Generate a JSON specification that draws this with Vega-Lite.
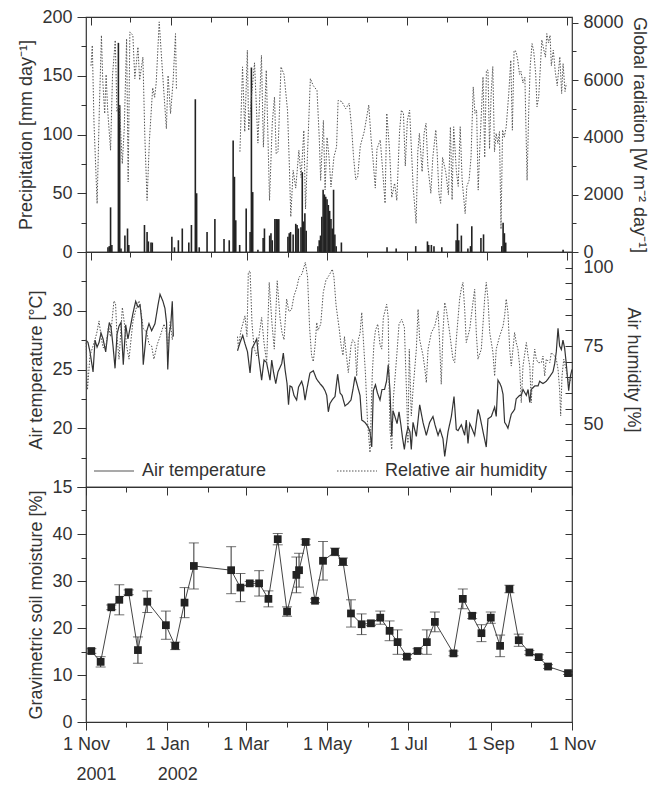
{
  "$schema": "https://vega.github.io/schema/vega-lite/v6.json",
  "padding": {"left": 17, "top": 7, "right": 5, "bottom": 5},
  "spacing": 0,
  "bounds": "flush",
  "resolve": {"legend": {"strokeDash": "independent"}, "scale": {"strokeDash": "independent"}},
  "datasets": {
    "precip": [
      {"day":13,"precip":4},{"day":14,"precip":5},{"day":15,"precip":38},{"day":16,"precip":6},{"day":21,"precip":178},{"day":22,"precip":125},{"day":23,"precip":3},{"day":26,"precip":14},{"day":28,"precip":20},{"day":29,"precip":6},
      {"day":41,"precip":23},{"day":43,"precip":17},{"day":44,"precip":9},{"day":46,"precip":8},{"day":47,"precip":8},{"day":62,"precip":13},{"day":64,"precip":4},{"day":67,"precip":10},{"day":70,"precip":20},{"day":75,"precip":8},
      {"day":77,"precip":23},{"day":80,"precip":130},{"day":81,"precip":50},{"day":83,"precip":4},{"day":89,"precip":17},{"day":95,"precip":28},{"day":102,"precip":11},{"day":106,"precip":10},{"day":109,"precip":95},{"day":110,"precip":64},
      {"day":111,"precip":27},{"day":114,"precip":6},{"day":119,"precip":37},{"day":122,"precip":17},{"day":123,"precip":157},{"day":124,"precip":51},{"day":128,"precip":2},{"day":132,"precip":12},{"day":133,"precip":20},{"day":137,"precip":14},
      {"day":138,"precip":16},{"day":139,"precip":10},{"day":141,"precip":28},{"day":142,"precip":28},{"day":143,"precip":28},{"day":144,"precip":28},{"day":151,"precip":13},{"day":152,"precip":16},{"day":153,"precip":17},{"day":155,"precip":15},
      {"day":157,"precip":24},{"day":158,"precip":23},{"day":159,"precip":20},{"day":161,"precip":21},{"day":162,"precip":68},{"day":163,"precip":26},{"day":164,"precip":33},{"day":165,"precip":18},{"day":174,"precip":5},{"day":175,"precip":10},
      {"day":176,"precip":14},{"day":177,"precip":30},{"day":178,"precip":53},{"day":179,"precip":49},{"day":180,"precip":47},{"day":181,"precip":45},{"day":182,"precip":40},{"day":183,"precip":35},{"day":184,"precip":28},{"day":185,"precip":20},
      {"day":186,"precip":53},{"day":187,"precip":15},{"day":188,"precip":5},{"day":192,"precip":8},{"day":227,"precip":4},{"day":234,"precip":3},{"day":249,"precip":5},{"day":258,"precip":9},{"day":259,"precip":6},{"day":261,"precip":6},
      {"day":263,"precip":5},{"day":269,"precip":4},{"day":280,"precip":10},{"day":281,"precip":24},{"day":282,"precip":10},{"day":284,"precip":14},{"day":289,"precip":3},{"day":291,"precip":5},{"day":292,"precip":22},{"day":299,"precip":12},
      {"day":301,"precip":15},{"day":315,"precip":5},{"day":316,"precip":25},{"day":317,"precip":16},{"day":318,"precip":8},{"day":362,"precip":2}
    ],
    "rad": [
      {"day":0,"rad":6500},{"day":1,"rad":7210},{"day":2.3,"rad":4500},{"day":4.7,"rad":1690},{"day":6.4,"rad":5000},{"day":8,"rad":7560},{"day":9,"rad":6000},{"day":10.5,"rad":4830},{"day":11.6,"rad":6190},{"day":12.8,"rad":4940},
      {"day":15,"rad":3550},{"day":16.5,"rad":6160},{"day":18.6,"rad":7390},{"day":19.9,"rad":4900},{"day":21.8,"rad":5100},{"day":24,"rad":3080},{"day":25.5,"rad":4300},{"day":27.3,"rad":7440},{"day":28.5,"rad":2450},{"day":29.8,"rad":7680},
      {"day":32.1,"rad":7560},{"day":33.6,"rad":6050},{"day":36,"rad":7150},{"day":37.3,"rad":6000},{"day":39.8,"rad":6800},{"day":41.3,"rad":4000},{"day":43,"rad":1800},{"day":44.8,"rad":3900},{"day":47.3,"rad":5730},{"day":48.8,"rad":5400},
      {"day":50,"rad":5900},{"day":52.3,"rad":8030},{"day":54.8,"rad":6300},{"day":57.8,"rad":4300},{"day":59.1,"rad":6160},{"day":61,"rad":4830},{"day":63,"rad":6000},{"day":64.8,"rad":7620},{"day":65.5,"rad":5700},
      {"day":90,"rad":null},
      {"day":114.2,"rad":3500},{"day":116.2,"rad":6460},{"day":117.9,"rad":4200},{"day":119.9,"rad":7040},{"day":120.9,"rad":4240},{"day":123.2,"rad":5500},{"day":125.4,"rad":6600},{"day":128,"rad":3800},{"day":130.7,"rad":6860},{"day":132.2,"rad":3660},
      {"day":134.4,"rad":6340},{"day":136.9,"rad":1800},{"day":139,"rad":4500},{"day":140.7,"rad":5410},{"day":142,"rad":3430},{"day":143.4,"rad":3500},{"day":145.7,"rad":6460},{"day":148,"rad":6200},{"day":150.7,"rad":4940},{"day":152.1,"rad":3020},
      {"day":153.2,"rad":1230},{"day":155,"rad":2850},{"day":157,"rad":2230},{"day":159.4,"rad":3550},{"day":161.1,"rad":2600},{"day":163.2,"rad":4240},{"day":164.5,"rad":1500},{"day":166,"rad":3400},{"day":168.2,"rad":6050},{"day":170.5,"rad":5800},
      {"day":173.3,"rad":5640},{"day":175,"rad":4010},{"day":176.1,"rad":2500},{"day":178.2,"rad":4590},{"day":179.5,"rad":2170},{"day":181,"rad":4000},{"day":182.5,"rad":3320},{"day":184,"rad":2270},{"day":186.3,"rad":3320},{"day":188.3,"rad":3670},
      {"day":189.5,"rad":5290},{"day":192.3,"rad":5250},{"day":195.3,"rad":5000},{"day":198,"rad":5190},{"day":199.8,"rad":4370},{"day":201.3,"rad":3330},{"day":203,"rad":2520},{"day":204.5,"rad":2620},{"day":206.5,"rad":3700},{"day":209.5,"rad":4200},
      {"day":213,"rad":5130},{"day":214.7,"rad":4000},{"day":216.3,"rad":3200},{"day":218,"rad":2230},{"day":219.3,"rad":3600},{"day":221.8,"rad":3910},{"day":223.4,"rad":3000},{"day":225.5,"rad":1700},{"day":226.8,"rad":4840},{"day":229,"rad":3500},
      {"day":230.6,"rad":1900},{"day":232.8,"rad":2400},{"day":234.5,"rad":1800},{"day":236.6,"rad":4200},{"day":238,"rad":4950},{"day":239.6,"rad":4830},{"day":241,"rad":3000},{"day":242.6,"rad":4600},{"day":244.3,"rad":4950},{"day":246,"rad":3300},
      {"day":247,"rad":2290},{"day":249.3,"rad":1000},{"day":250.6,"rad":3500},{"day":251.8,"rad":4140},{"day":253.9,"rad":2800},{"day":255.4,"rad":4140},{"day":256.9,"rad":4490},{"day":258.3,"rad":3000},{"day":260.6,"rad":2050},{"day":262.1,"rad":3300},
      {"day":264.4,"rad":4260},{"day":265.5,"rad":3400},{"day":266.8,"rad":2050},{"day":268.1,"rad":1700},{"day":269.6,"rad":3300},{"day":272,"rad":2800},{"day":274.1,"rad":2000},{"day":275.6,"rad":4360},{"day":276.9,"rad":1820},{"day":278.1,"rad":4370},
      {"day":280.2,"rad":2800},{"day":281.6,"rad":2290},{"day":283.1,"rad":4370},{"day":284.6,"rad":2500},{"day":286.9,"rad":1340},{"day":288.2,"rad":2290},{"day":289.9,"rad":2500},{"day":291.4,"rad":3300},{"day":293.1,"rad":5760},{"day":294.4,"rad":4840},
      {"day":295.7,"rad":4950},{"day":296.9,"rad":2160},{"day":298.2,"rad":3700},{"day":300.6,"rad":6110},{"day":301.9,"rad":3300},{"day":303.2,"rad":6340},{"day":304.4,"rad":6350},{"day":305.6,"rad":3600},{"day":306.8,"rad":5500},{"day":308.1,"rad":6470},
      {"day":309.4,"rad":3500},{"day":310.7,"rad":4140},{"day":312,"rad":3780},{"day":313.2,"rad":4200},{"day":314.4,"rad":800},{"day":315.6,"rad":4260},{"day":316.9,"rad":4010},{"day":318.4,"rad":4370},{"day":320.3,"rad":5500},{"day":321.9,"rad":6690},
      {"day":323.1,"rad":4250},{"day":324.4,"rad":7030},{"day":325.9,"rad":7000},{"day":327.2,"rad":6700},{"day":328.6,"rad":6200},{"day":329.7,"rad":6300},{"day":331.2,"rad":5900},{"day":332.7,"rad":6100},{"day":334.4,"rad":2500},{"day":335.7,"rad":5000},
      {"day":336.8,"rad":6500},{"day":338.2,"rad":7270},{"day":339.5,"rad":7000},{"day":341,"rad":6200},{"day":342,"rad":5070},{"day":343.3,"rad":5400},{"day":345.7,"rad":7400},{"day":347,"rad":7100},{"day":348.5,"rad":6800},{"day":349.5,"rad":7620},
      {"day":350.8,"rad":7300},{"day":352,"rad":7560},{"day":353,"rad":6500},{"day":354.5,"rad":7040},{"day":356,"rad":6300},{"day":357.5,"rad":5800},{"day":359.5,"rad":6810},{"day":360.9,"rad":5530},{"day":362,"rad":6570},{"day":363.5,"rad":5600},{"day":364.5,"rad":5880}
    ],
    "temp": [
      {"day":0,"temp":27.5},{"day":1.5,"temp":27.3},{"day":3,"temp":26.5},{"day":5.3,"temp":24.8},{"day":6.8,"temp":27.5},{"day":8.3,"temp":26.9},{"day":9.8,"temp":27.3},{"day":11.3,"temp":28.1},{"day":12.8,"temp":27.6},{"day":14.8,"temp":26.5},
      {"day":16.1,"temp":27.8},{"day":17.5,"temp":29.0},{"day":18.8,"temp":28.6},{"day":20.3,"temp":27.0},{"day":21.8,"temp":25.1},{"day":23.3,"temp":28.0},{"day":24.8,"temp":28.7},{"day":26.3,"temp":29.0},{"day":28,"temp":25.4},{"day":29.8,"temp":28.8},
      {"day":31.5,"temp":27.6},{"day":33.6,"temp":28.8},{"day":35.3,"temp":29.8},{"day":37.3,"temp":30.8},{"day":39.1,"temp":30.3},{"day":40.6,"temp":30.5},{"day":41.8,"temp":29.2},{"day":43,"temp":25.4},{"day":45.4,"temp":28.2},{"day":47.3,"temp":28.9},
      {"day":49.3,"temp":28.3},{"day":51.8,"temp":28.9},{"day":54.1,"temp":30.5},{"day":55.6,"temp":31.4},{"day":57.8,"temp":30.8},{"day":59.3,"temp":30.2},{"day":60.5,"temp":29.0},{"day":61.4,"temp":25.0},{"day":62.6,"temp":28.1},{"day":63.6,"temp":28.7},
      {"day":64.8,"temp":30.8},{"day":65.6,"temp":27.8},
      {"day":90,"temp":null},
      {"day":113.8,"temp":26.6},{"day":115.7,"temp":27.3},{"day":117.7,"temp":27.9},{"day":119.4,"temp":27.2},{"day":121.3,"temp":26.5},{"day":123.2,"temp":24.7},{"day":124.7,"temp":26.8},{"day":126.5,"temp":27.2},{"day":128.2,"temp":27.6},{"day":129.5,"temp":26.2},
      {"day":131.9,"temp":24.1},{"day":133.7,"temp":25.8},{"day":135.6,"temp":25.6},{"day":138.2,"temp":24.1},{"day":139.5,"temp":25.8},{"day":140.8,"temp":24.8},{"day":142.5,"temp":23.8},{"day":144.2,"temp":24.8},{"day":147,"temp":25.5},{"day":148.2,"temp":26.4},
      {"day":149.5,"temp":25.0},{"day":151,"temp":23.8},{"day":152.1,"temp":22.0},{"day":153.2,"temp":23.6},{"day":154.7,"temp":23.5},{"day":156.2,"temp":22.8},{"day":158.2,"temp":22.4},{"day":159.6,"temp":23.5},{"day":162,"temp":24.0},{"day":163.2,"temp":23.5},
      {"day":164.5,"temp":22.4},{"day":166,"temp":23.4},{"day":168.2,"temp":24.7},{"day":170.7,"temp":24.9},{"day":173.1,"temp":24.2},{"day":175.7,"temp":23.8},{"day":178,"temp":23.5},{"day":179.5,"temp":23.2},{"day":180.8,"temp":22.8},{"day":182,"temp":21.4},
      {"day":183.2,"temp":22.1},{"day":184.8,"temp":22.4},{"day":187,"temp":22.7},{"day":189,"temp":24.6},{"day":190.8,"temp":23.0},{"day":192.3,"temp":22.8},{"day":194.5,"temp":21.9},{"day":196.8,"temp":22.1},{"day":199,"temp":22.4},{"day":200.5,"temp":23.3},
      {"day":202,"temp":24.4},{"day":203.9,"temp":23.6},{"day":205.8,"temp":22.8},{"day":207.1,"temp":20.7},{"day":209.5,"temp":20.5},{"day":212,"temp":20.1},{"day":213.3,"temp":19.7},{"day":214.6,"temp":18.4},{"day":215.8,"temp":23.2},{"day":217.4,"temp":23.7},
      {"day":218.9,"temp":23.0},{"day":220.8,"temp":22.4},{"day":222.3,"temp":23.3},{"day":224.2,"temp":23.3},{"day":225.7,"temp":24.0},{"day":227,"temp":25.4},{"day":228.3,"temp":23.2},{"day":229.6,"temp":19.3},{"day":230.6,"temp":21.5},{"day":232,"temp":21.0},
      {"day":233.6,"temp":20.4},{"day":235.1,"temp":21.4},{"day":236.6,"temp":20.2},{"day":237.7,"temp":19.2},{"day":239.1,"temp":18.2},{"day":240.3,"temp":19.3},{"day":241.8,"temp":20.1},{"day":243.3,"temp":19.7},{"day":244.3,"temp":18.2},{"day":245.6,"temp":20.5},
      {"day":248.1,"temp":19.3},{"day":250.6,"temp":22.0},{"day":253.1,"temp":20.5},{"day":255.6,"temp":19.4},{"day":258.1,"temp":20.5},{"day":260.6,"temp":21.0},{"day":262.1,"temp":20.3},{"day":264.4,"temp":19.4},{"day":265.9,"temp":19.9},{"day":268.1,"temp":19.1},
      {"day":269.4,"temp":17.6},{"day":271.9,"temp":19.7},{"day":274.4,"temp":21.0},{"day":276.4,"temp":22.7},{"day":278.1,"temp":19.9},{"day":279.4,"temp":19.8},{"day":281.9,"temp":20.3},{"day":284.4,"temp":19.4},{"day":285.6,"temp":20.7},{"day":286.9,"temp":18.7},
      {"day":288.2,"temp":20.4},{"day":289.4,"temp":20.1},{"day":291.9,"temp":19.4},{"day":294.4,"temp":21.6},{"day":295.7,"temp":21.1},{"day":298.2,"temp":19.7},{"day":300.6,"temp":18.4},{"day":301.9,"temp":20.8},{"day":304.4,"temp":21.0},{"day":306.9,"temp":21.8},
      {"day":308.1,"temp":21.0},{"day":309.4,"temp":24.1},{"day":310.9,"temp":23.8},{"day":312,"temp":23.5},{"day":313.2,"temp":22.9},{"day":314.4,"temp":20.5},{"day":315.6,"temp":20.3},{"day":316.9,"temp":20.0},{"day":319.4,"temp":21.2},{"day":321.9,"temp":21.6},
      {"day":323.1,"temp":22.5},{"day":325.7,"temp":22.8},{"day":326.9,"temp":22.8},{"day":328.2,"temp":23.3},{"day":330.7,"temp":22.8},{"day":332,"temp":23.3},{"day":333.3,"temp":22.2},{"day":334.4,"temp":23.3},{"day":337,"temp":23.6},{"day":339.5,"temp":23.6},
      {"day":340.7,"temp":24.0},{"day":343.2,"temp":23.8},{"day":345.7,"temp":24.0},{"day":348.3,"temp":24.4},{"day":350.7,"temp":24.8},{"day":352,"temp":25.5},{"day":353.2,"temp":26.5},{"day":354.5,"temp":28.5},{"day":355.7,"temp":27.0},{"day":357,"temp":26.7},
      {"day":358.2,"temp":27.5},{"day":359.5,"temp":26.8},{"day":360.7,"temp":25.5},{"day":362.5,"temp":23.2},{"day":363.9,"temp":24.5},{"day":365,"temp":25.0}
    ],
    "hum": [
      {"day":0,"hum":77},{"day":1.1,"hum":61},{"day":3,"hum":72},{"day":5.3,"hum":75},{"day":8,"hum":79},{"day":9.8,"hum":83},{"day":11.3,"hum":78},{"day":12.8,"hum":74.5},{"day":14.8,"hum":74.5},{"day":16.9,"hum":81.4},
      {"day":18.4,"hum":78},{"day":21,"hum":89.4},{"day":22.2,"hum":88.5},{"day":23.3,"hum":78},{"day":24.8,"hum":70.8},{"day":27.3,"hum":87.3},{"day":28.9,"hum":82},{"day":30.5,"hum":75},{"day":32.3,"hum":70.8},{"day":33.8,"hum":77},
      {"day":35.3,"hum":83},{"day":38.3,"hum":88},{"day":39.8,"hum":89.4},{"day":41.3,"hum":86},{"day":43,"hum":80.4},{"day":45.6,"hum":79.5},{"day":47.3,"hum":75.6},{"day":49.3,"hum":75},{"day":51,"hum":70.8},{"day":53.5,"hum":75.5},
      {"day":55.6,"hum":78},{"day":58.6,"hum":82},{"day":60.1,"hum":80},{"day":61.6,"hum":74},{"day":63.3,"hum":83},{"day":64.8,"hum":77},{"day":65.6,"hum":80},
      {"day":90,"hum":null},
      {"day":113.8,"hum":78},{"day":114.4,"hum":74.5},{"day":116.4,"hum":80},{"day":119.4,"hum":84.6},{"day":120.9,"hum":78},{"day":121.9,"hum":98.5},{"day":123.2,"hum":99},{"day":124.7,"hum":82},{"day":126.2,"hum":74.5},{"day":128.2,"hum":71.8},
      {"day":129.9,"hum":78},{"day":131.9,"hum":84.1},{"day":133.7,"hum":76},{"day":135.7,"hum":69.7},{"day":137.6,"hum":95.3},{"day":139.7,"hum":82},{"day":141.4,"hum":74},{"day":143.6,"hum":95.8},{"day":145.7,"hum":84},{"day":147.2,"hum":79.3},
      {"day":148.7,"hum":77},{"day":150.7,"hum":90},{"day":152.4,"hum":86},{"day":154.3,"hum":86.5},{"day":156.2,"hum":91},{"day":158.2,"hum":93.5},{"day":160,"hum":96.9},{"day":162.2,"hum":98},{"day":164.7,"hum":101.7},{"day":166.4,"hum":97},
      {"day":167.9,"hum":81},{"day":169.4,"hum":72},{"day":170.7,"hum":70},{"day":172,"hum":75},{"day":173.3,"hum":82.5},{"day":174.2,"hum":80},{"day":176.3,"hum":82},{"day":178.2,"hum":92.1},{"day":180.2,"hum":96},{"day":182.5,"hum":97.5},
      {"day":185,"hum":99.5},{"day":186.2,"hum":97},{"day":187.8,"hum":88},{"day":190.2,"hum":80.4},{"day":191.5,"hum":75.5},{"day":193,"hum":72},{"day":194.1,"hum":78},{"day":195.6,"hum":72},{"day":197,"hum":66.5},{"day":199,"hum":75},
      {"day":200.2,"hum":77},{"day":202,"hum":76},{"day":203.3,"hum":65.4},{"day":204.5,"hum":77},{"day":205.8,"hum":79},{"day":207.1,"hum":85.7},{"day":208.3,"hum":77},{"day":209.9,"hum":66},{"day":211.4,"hum":51},{"day":213.3,"hum":41},
      {"day":214,"hum":51},{"day":215,"hum":66},{"day":216.3,"hum":76},{"day":217.4,"hum":80},{"day":219.1,"hum":82},{"day":220.8,"hum":75.5},{"day":222.1,"hum":74},{"day":223.3,"hum":84},{"day":225.8,"hum":88.3},{"day":227,"hum":84},
      {"day":227.6,"hum":63},{"day":228.3,"hum":48.4},{"day":229.6,"hum":42},{"day":230.8,"hum":58},{"day":233.4,"hum":72},{"day":235.1,"hum":82},{"day":237.1,"hum":83.5},{"day":239.1,"hum":81},{"day":240.9,"hum":58},{"day":241.8,"hum":44},
      {"day":242.8,"hum":74},{"day":244.3,"hum":52.7},{"day":245.6,"hum":61},{"day":248.1,"hum":74},{"day":249.4,"hum":86.7},{"day":250.6,"hum":77},{"day":253.1,"hum":72},{"day":254.4,"hum":68},{"day":255.6,"hum":63.3},{"day":256.9,"hum":74},
      {"day":259.4,"hum":79.3},{"day":261.9,"hum":81.3},{"day":264.4,"hum":86.2},{"day":265.6,"hum":76},{"day":266.8,"hum":62.8},{"day":268.1,"hum":79.3},{"day":269.4,"hum":88.9},{"day":270.6,"hum":86.7},{"day":273.1,"hum":79.3},{"day":275.6,"hum":70.8},
      {"day":276.9,"hum":69.7},{"day":278.1,"hum":77},{"day":280.6,"hum":90},{"day":281.8,"hum":93.1},{"day":283.1,"hum":95.3},{"day":284.4,"hum":86.7},{"day":285.6,"hum":76.1},{"day":288.2,"hum":80.4},{"day":289.4,"hum":84.6},{"day":290.6,"hum":88.9},
      {"day":291.9,"hum":93.1},{"day":293.1,"hum":79.3},{"day":294.4,"hum":70.8},{"day":296.9,"hum":74},{"day":299.4,"hum":90},{"day":300.6,"hum":95.3},{"day":301.9,"hum":90},{"day":303.2,"hum":79.3},{"day":305.6,"hum":73},{"day":306.9,"hum":65.4},
      {"day":308.1,"hum":74},{"day":310.7,"hum":78.2},{"day":313.2,"hum":81.3},{"day":314.4,"hum":84.6},{"day":315.6,"hum":90},{"day":316.9,"hum":85.7},{"day":318.2,"hum":74},{"day":319.4,"hum":68.6},{"day":321.9,"hum":79.3},{"day":323.1,"hum":76.1},
      {"day":324.4,"hum":74},{"day":325.7,"hum":68.6},{"day":326.9,"hum":56.9},{"day":328.2,"hum":68.6},{"day":330.7,"hum":76.1},{"day":332,"hum":71.8},{"day":333.3,"hum":68.6},{"day":334.4,"hum":56.9},{"day":335.7,"hum":68.6},{"day":337,"hum":74},
      {"day":338.2,"hum":70.8},{"day":339.5,"hum":69.7},{"day":342,"hum":69.7},{"day":343.2,"hum":71.8},{"day":344.5,"hum":65.4},{"day":345.7,"hum":70.8},{"day":348.3,"hum":69.7},{"day":349.5,"hum":72.9},{"day":352,"hum":71.8},{"day":353.2,"hum":70.8},
      {"day":354.5,"hum":67.6},{"day":355.7,"hum":61.2},{"day":356.5,"hum":52.7},{"day":357.5,"hum":65.4},{"day":358.8,"hum":70.8},{"day":360.5,"hum":67.6},{"day":362.5,"hum":63.3},{"day":364.5,"hum":64.4}
    ],
    "soil": [
      {"day":4,"moisture":15.1,"sd":0.5},{"day":11,"moisture":12.8,"sd":1.1},{"day":19,"moisture":24.4,"sd":0.5},{"day":25,"moisture":26.0,"sd":3.2},{"day":32,"moisture":27.6,"sd":0.5},
      {"day":39,"moisture":15.3,"sd":2.8},{"day":46,"moisture":25.6,"sd":2.3},{"day":60,"moisture":20.6,"sd":3.0},{"day":67,"moisture":16.2,"sd":0.8},{"day":74,"moisture":25.4,"sd":3.2},
      {"day":81,"moisture":33.2,"sd":4.9},{"day":109,"moisture":32.3,"sd":5.0},{"day":116,"moisture":28.6,"sd":3.0},{"day":123,"moisture":29.5,"sd":0.4},{"day":130,"moisture":29.5,"sd":2.7},
      {"day":137,"moisture":26.2,"sd":1.7},{"day":144,"moisture":38.9,"sd":1.2},{"day":151,"moisture":23.5,"sd":1.0},{"day":158,"moisture":31.3,"sd":3.8},{"day":160,"moisture":32.3,"sd":3.6},
      {"day":165,"moisture":38.3,"sd":0.6},{"day":172,"moisture":25.8,"sd":0.4},{"day":178,"moisture":34.3,"sd":4.1},{"day":187,"moisture":36.2,"sd":0.8},{"day":193,"moisture":34.1,"sd":0.8},
      {"day":199,"moisture":23.1,"sd":2.9},{"day":207,"moisture":20.8,"sd":2.2},{"day":214,"moisture":21.0,"sd":0.5},{"day":221,"moisture":22.2,"sd":1.4},{"day":228,"moisture":19.4,"sd":2.1},
      {"day":234,"moisture":17.0,"sd":2.6},{"day":241,"moisture":13.9,"sd":0.4},{"day":249,"moisture":15.1,"sd":0.5},{"day":256,"moisture":17.0,"sd":2.6},{"day":262,"moisture":21.3,"sd":2.1},
      {"day":276,"moisture":14.6,"sd":0.5},{"day":283,"moisture":26.2,"sd":2.1},{"day":290,"moisture":22.6,"sd":0.6},{"day":297,"moisture":18.9,"sd":1.8},{"day":304,"moisture":22.2,"sd":1.2},
      {"day":311,"moisture":16.2,"sd":2.3},{"day":318,"moisture":28.3,"sd":0.8},{"day":325,"moisture":17.4,"sd":1.3},{"day":333,"moisture":14.8,"sd":0.4},{"day":340,"moisture":13.8,"sd":0.5},
      {"day":347,"moisture":11.8,"sd":0.4},{"day":362,"moisture":10.4,"sd":0.3}
    ]
  },
  "vconcat": [
    {
      "width": 486, "height": 235,
      "layer": [
        {
          "data": {"name": "precip"},
          "mark": {"type": "bar", "orient": "vertical", "size": 1.6, "color": "#222"},
          "encoding": {
            "x": {"field": "day", "type": "quantitative", "scale": {"domain": [0, 365], "nice": false, "zero": false},
                  "axis": {"orient": "bottom", "title": null, "labels": false, "values": [0,30,61,92,120,151,181,212,242,273,304,334,365],
                           "tickSize": {"condition": {"test": "indexof([0,61,120,181,242,304,365], datum.value) >= 0", "value": 8}, "value": 5}}},
            "y": {"field": "precip", "type": "quantitative", "scale": {"domain": [0, 200], "nice": false},
                  "axis": {"title": "Precipitation [mm day⁻¹]", "values": [0,25,50,75,100,125,150,175,200],
                           "labelExpr": "datum.value % 50 == 0 ? format(datum.value, 'd') : ''",
                           "tickSize": {"condition": {"test": "datum.value % 50 == 0", "value": 9}, "value": 5}}}
          }
        },
        {
          "data": {"name": "rad"},
          "mark": {"type": "line", "color": "#555", "strokeWidth": 1, "strokeDash": [1.5, 1.5], "invalid": "break-paths-show-domains"},
          "encoding": {
            "x": {"field": "day", "type": "quantitative",
                  "axis": {"orient": "top", "title": null, "labels": false, "values": [0,30,61,92,120,151,181,212,242,273,304,334,365],
                           "tickSize": {"condition": {"test": "indexof([0,61,120,181,242,304,365], datum.value) >= 0", "value": -8}, "value": -5}}},
            "y": {"field": "rad", "type": "quantitative", "scale": {"domain": [0, 8200], "nice": false},
                  "axis": {"orient": "right", "title": "Global radiation [W m⁻² day⁻¹]", "values": [0,1000,2000,3000,4000,5000,6000,7000,8000],
                           "labelExpr": "datum.value % 2000 == 0 ? format(datum.value, 'd') : ''",
                           "tickSize": {"condition": {"test": "datum.value % 2000 == 0", "value": 6}, "value": 4}}}
          }
        }
      ],
      "resolve": {"scale": {"y": "independent"}, "axis": {"x": "independent", "y": "independent"}}
    },
    {
      "width": 486, "height": 235,
      "encoding": {
        "x": {"field": "day", "type": "quantitative", "scale": {"domain": [0, 365], "nice": false, "zero": false},
              "axis": {"orient": "bottom", "title": null, "labels": false, "values": [0,30,61,92,120,151,181,212,242,273,304,334,365],
                       "tickSize": {"condition": {"test": "indexof([0,61,120,181,242,304,365], datum.value) >= 0", "value": 8}, "value": 5}}}
      },
      "layer": [
        {
          "data": {"name": "temp"},
          "mark": {"type": "line", "color": "#333", "strokeWidth": 1.2, "invalid": "break-paths-show-domains"},
          "encoding": {
            "y": {"field": "temp", "type": "quantitative", "scale": {"domain": [15, 35], "nice": false, "zero": false},
                  "axis": {"title": "Air temperature [°C]", "values": [15,17.5,20,22.5,25,27.5,30,32.5,35],
                           "labelExpr": "datum.value % 5 == 0 && datum.value < 35 ? format(datum.value, 'd') : ''",
                           "tickSize": {"condition": {"test": "datum.value % 5 == 0", "value": 9}, "value": 5}}},
            "strokeDash": {"datum": "Air temperature", "type": "nominal",
                           "scale": {"domain": ["Air temperature", "Relative air humidity"], "range": [[1, 0], [1.5, 1.5]]},
                           "legend": {"orient": "bottom-left", "direction": "horizontal", "title": null, "symbolType": "stroke",
                                      "symbolSize": 1600, "symbolStrokeWidth": 1.2, "symbolStrokeColor": "#444",
                                      "labelFontSize": 18, "labelColor": "#333", "labelFont": "Liberation Sans", "labelLimit": 400,
                                      "columnPadding": 67, "offset": 7, "labelOffset": 7}}
          }
        },
        {
          "data": {"name": "hum"},
          "mark": {"type": "line", "color": "#555", "strokeWidth": 1, "invalid": "break-paths-show-domains"},
          "encoding": {
            "y": {"field": "hum", "type": "quantitative", "scale": {"domain": [30, 105], "nice": false, "zero": false},
                  "axis": {"orient": "right", "title": "Air humidity [%]", "values": [35,40,45,50,55,60,65,70,75,80,85,90,95,100],
                           "labelExpr": "datum.value % 25 == 0 ? format(datum.value, 'd') : ''",
                           "tickSize": -7, "labelPadding": 18, "titlePadding": 10}},
            "strokeDash": {"datum": "Relative air humidity", "type": "nominal"}
          }
        }
      ],
      "resolve": {"scale": {"y": "independent"}, "axis": {"y": "independent"}}
    },
    {
      "width": 486, "height": 235,
      "data": {"name": "soil"},
      "layer": [
        {
          "mark": {"type": "line", "color": "#444", "strokeWidth": 1},
          "encoding": {
            "x": {"field": "day", "type": "quantitative", "scale": {"domain": [0, 365], "nice": false, "zero": false},
                  "axis": {"orient": "bottom", "title": null, "values": [0,30,61,92,120,151,181,212,242,273,304,334,365],
                           "labelExpr": "datum.value == 0 ? '1 Nov' : datum.value == 61 ? '1 Jan' : datum.value == 120 ? '1 Mar' : datum.value == 181 ? '1 May' : datum.value == 242 ? '1 Jul' : datum.value == 304 ? '1 Sep' : datum.value == 365 ? '1 Nov' : ''",
                           "labelPadding": 5,
                           "tickSize": {"condition": {"test": "indexof([0,61,120,181,242,304,365], datum.value) >= 0", "value": 8}, "value": 5}}},
            "y": {"field": "moisture", "type": "quantitative", "scale": {"domain": [0, 50], "nice": false},
                  "axis": {"title": "Gravimetric soil moisture [%]", "values": [0,5,10,15,20,25,30,35,40,45,50],
                           "labelExpr": "datum.value % 10 == 0 && datum.value < 50 ? format(datum.value, 'd') : ''",
                           "tickSize": {"condition": {"test": "datum.value % 10 == 0", "value": 9}, "value": 5}}}
          }
        },
        {
          "mark": {"type": "errorbar", "ticks": {"size": 10, "color": "#333"}, "rule": {"color": "#333"}},
          "encoding": {
            "x": {"field": "day", "type": "quantitative", "axis": null},
            "y": {"field": "moisture", "type": "quantitative", "axis": null},
            "yError": {"field": "sd"}
          }
        },
        {
          "mark": {"type": "point", "shape": "square", "filled": true, "size": 60, "color": "#222", "opacity": 1},
          "encoding": {
            "x": {"field": "day", "type": "quantitative",
                  "axis": {"orient": "bottom", "title": null, "values": [0, 61], "ticks": false, "domain": false,
                           "labelExpr": "datum.value == 0 ? '2001' : '2002'", "labelPadding": 43, "labelOffset": 10}},
            "y": {"field": "moisture", "type": "quantitative",
                  "axis": {"orient": "right", "title": null, "labels": false, "values": [5,10,15,20,25,30,35,40,45], "tickSize": -7}}
          }
        }
      ],
      "resolve": {"axis": {"x": "independent", "y": "independent"}}
    }
  ],
  "config": {
    "font": "Liberation Sans",
    "view": {"stroke": "#333", "strokeWidth": 1.2},
    "axis": {"domain": false, "grid": false, "labelFont": "Liberation Sans", "labelFontSize": 18, "labelColor": "#333",
             "titleFont": "Liberation Sans", "titleFontSize": 18, "titleFontWeight": "normal", "titleColor": "#333",
             "tickColor": "#333", "labelOverlap": false, "labelFlush": false, "labelPadding": 5, "titlePadding": 6}
  }
}
